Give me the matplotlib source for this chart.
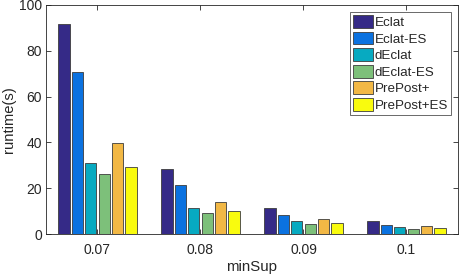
import numpy as np
from matplotlib import pyplot as plt

plt.rcParams["font.family"] = ["Liberation Sans", "DejaVu Sans"]

min_sup = ["0.07", "0.08", "0.09", "0.1"]
algos = ["Eclat", "Eclat-ES", "dEclat", "dEclat-ES", "PrePost+", "PrePost+ES"]

eclat = [91.6, 28.4, 11.5, 5.7]
eclat_es = [70.9, 21.4, 8.3, 3.9]
declat = [31.1, 11.4, 5.5, 2.9]
declat_es = [26.1, 9.0, 4.2, 2.0]
prepost = [39.6, 14.0, 6.4, 3.4]
prepost_es = [29.3, 10.0, 4.7, 2.5]

series = [eclat, eclat_es, declat, declat_es, prepost, prepost_es]
colors = ["#352a87", "#0b72e0", "#07aac1", "#7dc07a", "#f2b845", "#f9fb0e"]

fig = plt.figure(figsize=(4.59, 2.77), dpi=100)
ax = fig.add_axes([0.1002, 0.155, 0.8976, 0.827])

x = np.arange(1, len(min_sup) + 1)
slot = 0.13
width = 0.108
for k, (vals, col, name) in enumerate(zip(series, colors, algos)):
    off = (k - 2.5) * slot
    ax.bar(x + off, vals, width, color=col, edgecolor="#3c3c3c",
           linewidth=0.6, label=name, zorder=2)

ax.set_xlim(0.5, 4.5)
ax.set_ylim(0, 100)
ax.set_xticks(x)
ax.set_xticklabels(min_sup)
ax.set_yticks([0, 20, 40, 60, 80, 100])

txt_col = "#262626"
ax.tick_params(direction="in", top=True, right=True, length=3.5,
               width=0.6, colors="#262626", labelsize=10, labelcolor=txt_col)
ax.tick_params(axis="x", pad=6.5)
ax.tick_params(axis="y", pad=3)
for s in ax.spines.values():
    s.set_linewidth(0.6)
    s.set_color("#262626")

ax.set_xlabel("minSup", fontsize=10.8, color=txt_col, labelpad=2)
ax.set_ylabel("runtime(s)", fontsize=10.6, color=txt_col, labelpad=2)

leg = ax.legend(loc="upper right", fontsize=9.6, frameon=True, fancybox=False,
                handlelength=1.45, handleheight=1.1, handletextpad=0.15,
                labelspacing=0.2, borderpad=0.25, borderaxespad=0.5)
leg.get_frame().set_edgecolor("#262626")
leg.get_frame().set_linewidth(0.6)
for t in leg.get_texts():
    t.set_color(txt_col)

plt.savefig("out.png", dpi=100)
